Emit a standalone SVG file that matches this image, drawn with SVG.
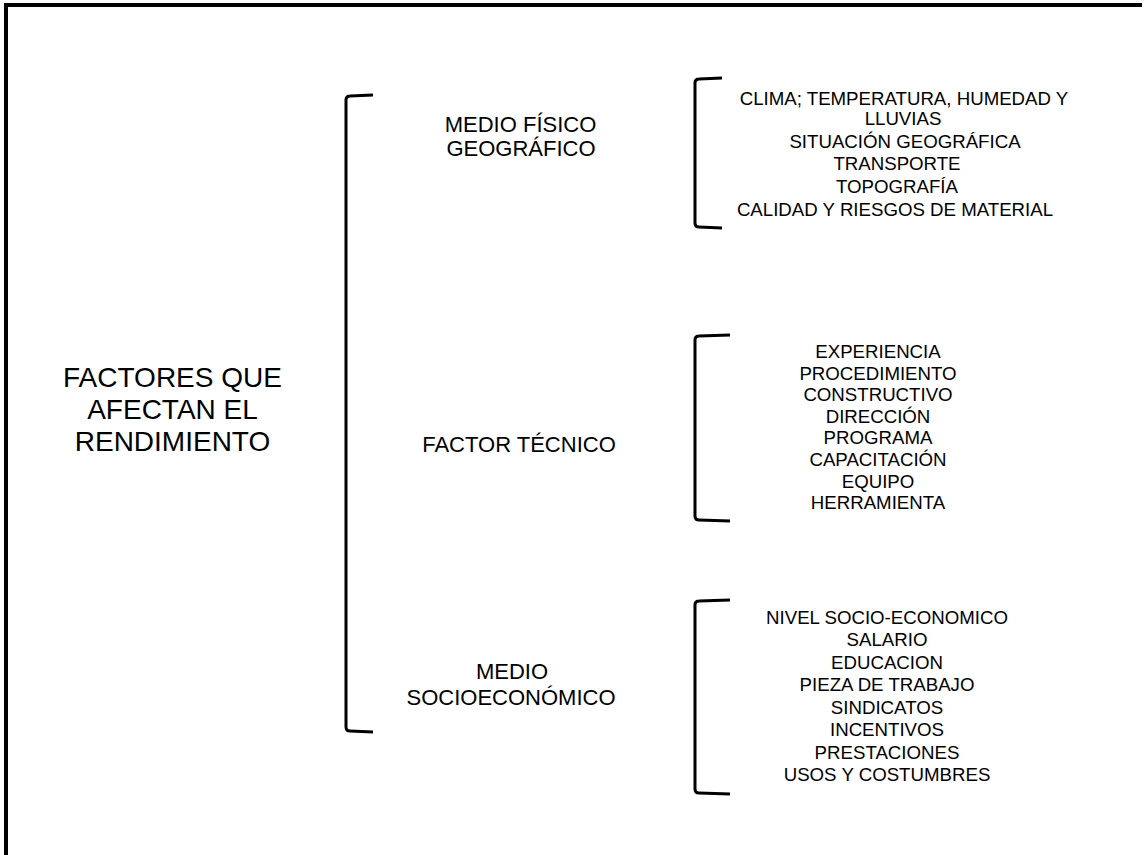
<svg xmlns="http://www.w3.org/2000/svg" width="1144" height="855" viewBox="0 0 1144 855">
<style>
text{font-family:"Liberation Sans",Arial,sans-serif;fill:#000;text-anchor:middle}
.big{font-size:28px}
.mid{font-size:22px}
.sm{font-size:18.67px}
.br{fill:none;stroke:#000;stroke-width:3;stroke-linecap:butt;stroke-linejoin:round}
</style>
<rect width="1144" height="855" fill="#fff"/>
<path d="M6,855 L6,5 L1142,5" fill="none" stroke="#000" stroke-width="4"/>
<g id="root">
<text class="big" x="172.5" y="387">FACTORES QUE</text>
<text class="big" x="172.5" y="419">AFECTAN EL</text>
<text class="big" x="172.5" y="451">RENDIMIENTO</text>
</g>
<g id="connectors">
<path class="br" d="M373,95 L350,96 Q346,96 346,100 L346,727 Q346,731 350,731 L373,732"/>
<path class="br" d="M722,78 L699,79 Q695,79 695,83 L695,223 Q695,227 699,227 L722,228"/>
<path class="br" d="M730,335 L699,336 Q695,336 695,340 L695,516 Q695,520 699,520 L730,521"/>
<path class="br" d="M730,600 L699,601 Q695,601 695,605 L695,789 Q695,793 699,793 L730,794"/>
</g>
<g id="medio-fisico">
<text class="mid" x="520.5" y="132">MEDIO FÍSICO</text>
<text class="mid" x="521" y="156">GEOGRÁFICO</text>
</g>
<g id="factor-tecnico">
<text class="mid" x="519" y="452">FACTOR TÉCNICO</text>
</g>
<g id="medio-socio">
<text class="mid" x="512" y="679">MEDIO</text>
<text class="mid" x="511" y="705">SOCIOECONÓMICO</text>
</g>
<g id="lista-fisico" class="sm">
<text x="904" y="105">CLIMA; TEMPERATURA, HUMEDAD Y</text>
<text x="903" y="125">LLUVIAS</text>
<text x="905" y="148">SITUACIÓN GEOGRÁFICA</text>
<text x="897" y="170">TRANSPORTE</text>
<text x="897" y="193">TOPOGRAFÍA</text>
<text x="895" y="216">CALIDAD Y RIESGOS DE MATERIAL</text>
</g>
<g id="lista-tecnico" class="sm">
<text x="878" y="358">EXPERIENCIA</text>
<text x="878" y="380">PROCEDIMIENTO</text>
<text x="878" y="401">CONSTRUCTIVO</text>
<text x="878" y="423">DIRECCIÓN</text>
<text x="878" y="444">PROGRAMA</text>
<text x="878" y="466">CAPACITACIÓN</text>
<text x="878" y="488">EQUIPO</text>
<text x="878" y="509">HERRAMIENTA</text>
</g>
<g id="lista-socio" class="sm">
<text x="887" y="624">NIVEL SOCIO-ECONOMICO</text>
<text x="887" y="646">SALARIO</text>
<text x="887" y="669">EDUCACION</text>
<text x="887" y="691">PIEZA DE TRABAJO</text>
<text x="887" y="714">SINDICATOS</text>
<text x="887" y="736">INCENTIVOS</text>
<text x="887" y="759">PRESTACIONES</text>
<text x="887" y="781">USOS Y COSTUMBRES</text>
</g>
</svg>
